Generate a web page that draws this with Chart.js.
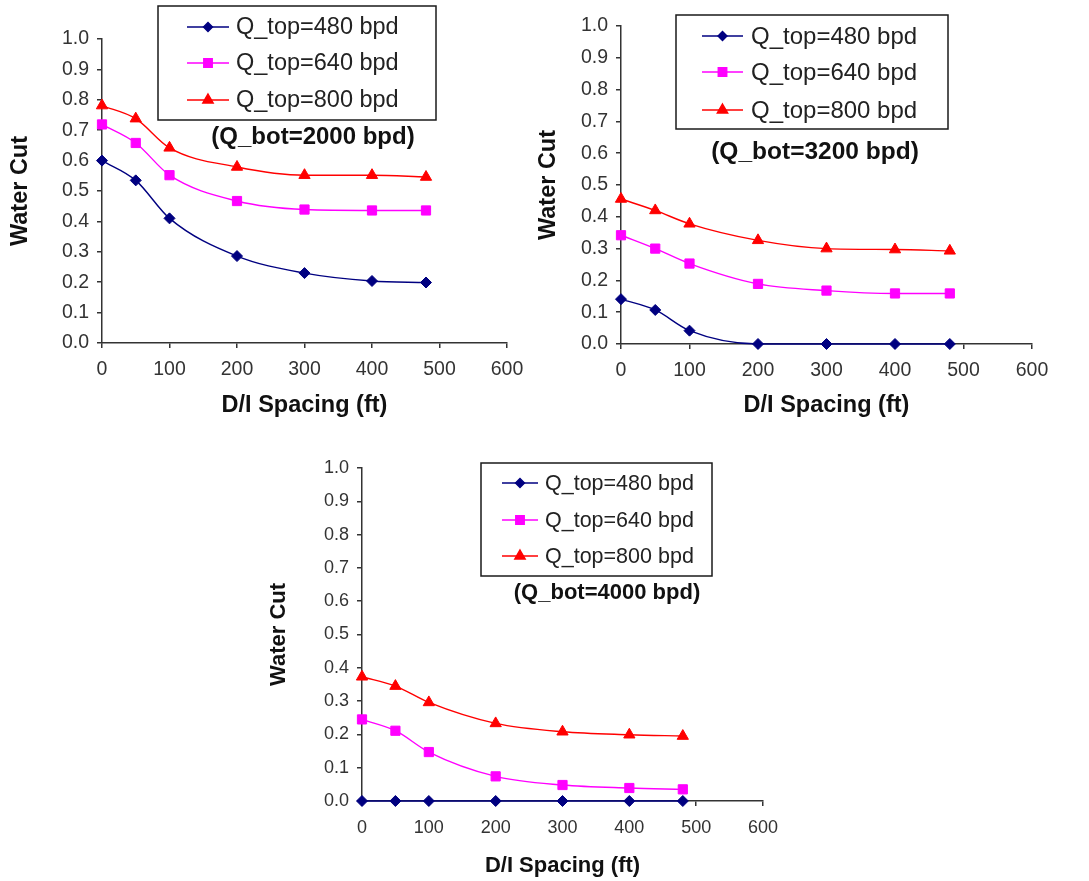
<!DOCTYPE html>
<html><head><meta charset="utf-8">
<script src="https://cdn.jsdelivr.net/npm/chart.js@4.4.1/dist/chart.umd.min.js"></script>
<style>
html,body{margin:0;padding:0;background:#fff;width:1089px;height:881px;overflow:hidden;}
.panel{position:absolute;}
</style></head><body>
<div class="panel" style="left:0;top:0;"><canvas id="c1" width="530" height="430"></canvas></div>
<div class="panel" style="left:530px;top:0;"><canvas id="c2" width="559" height="430"></canvas></div>
<div class="panel" style="left:260px;top:450px;"><canvas id="c3" width="540" height="431"></canvas></div>
<script>
// ---- data ----
const spacingFt = [0, 50, 100, 200, 300, 400, 480];
const seriesLabels = ['Q_top=480 bpd', 'Q_top=640 bpd', 'Q_top=800 bpd'];
const panelTitles = ['(Q_bot=2000 bpd)', '(Q_bot=3200 bpd)', '(Q_bot=4000 bpd)'];
const xAxisTitle = 'D/I Spacing (ft)';
const yAxisTitle = 'Water Cut';

const bot2000_top480 = [0.600, 0.535, 0.410, 0.286, 0.230, 0.204, 0.199];
const bot2000_top640 = [0.719, 0.658, 0.552, 0.467, 0.439, 0.436, 0.436];
const bot2000_top800 = [0.781, 0.738, 0.642, 0.579, 0.552, 0.552, 0.546];

const bot3200_top480 = [0.141, 0.107, 0.042, 0.000, 0.000, 0.000, 0.000];
const bot3200_top640 = [0.342, 0.300, 0.253, 0.189, 0.168, 0.159, 0.159];
const bot3200_top800 = [0.456, 0.420, 0.378, 0.326, 0.300, 0.297, 0.293];

const bot4000_top480 = [0.000, 0.000, 0.000, 0.000, 0.000, 0.000, 0.000];
const bot4000_top640 = [0.245, 0.211, 0.147, 0.074, 0.048, 0.039, 0.035];
const bot4000_top800 = [0.373, 0.345, 0.296, 0.233, 0.208, 0.199, 0.195];

// ---- styles ----
const FONT = "'Liberation Sans', Arial, sans-serif";
const seriesStyles = [
  {color: '#000080', pointStyle: 'rectRot', radius: 5.5, legendR: 4.5},
  {color: '#FF00FF', pointStyle: 'rect', radius: 6.5, legendR: 6},
  {color: '#FF0000', pointStyle: 'triangle', radius: 6.5, legendR: 6}
];

function makeDatasets(seriesList) {
  return seriesList.map((vals, i) => ({
    label: seriesLabels[i],
    data: spacingFt.map((x, k) => ({x: x, y: vals[k]})),
    borderColor: seriesStyles[i].color,
    backgroundColor: seriesStyles[i].color,
    borderWidth: 1.4,
    pointStyle: seriesStyles[i].pointStyle,
    pointRadius: seriesStyles[i].radius,
    pointBorderWidth: 1,
    cubicInterpolationMode: 'monotone',
    clip: false
  }));
}

const overlayPlugin = {
  id: 'overlay',
  afterDatasetsDraw(chart, args, o) {
    const ctx = chart.ctx;
    ctx.save();
    ctx.fillStyle = '#fff';
    ctx.fillRect(o.box[0], o.box[1], o.box[2] - o.box[0], o.box[3] - o.box[1]);
    ctx.strokeStyle = '#1a1a1a';
    ctx.lineWidth = 1.5;
    ctx.strokeRect(o.box[0], o.box[1], o.box[2] - o.box[0], o.box[3] - o.box[1]);
    chart.data.datasets.forEach((ds, i) => {
      const y = o.rows[i];
      ctx.strokeStyle = ds.borderColor;
      ctx.lineWidth = 1.4;
      ctx.beginPath();
      ctx.moveTo(o.line[0], y);
      ctx.lineTo(o.line[1], y);
      ctx.stroke();
      ctx.fillStyle = ds.backgroundColor;
      Chart.helpers.drawPoint(ctx, {pointStyle: ds.pointStyle, radius: seriesStyles[i].legendR, borderWidth: 1, rotation: 0}, (o.line[0] + o.line[1]) / 2, y);
      ctx.fillStyle = '#222';
      ctx.font = o.legendFont + 'px ' + FONT;
      ctx.textBaseline = 'middle';
      ctx.textAlign = 'left';
      ctx.fillText(ds.label, o.textX, y + 1);
    });
    ctx.fillStyle = '#111';
    ctx.font = 'bold ' + o.subFont + 'px ' + FONT;
    ctx.textAlign = 'center';
    ctx.textBaseline = 'middle';
    ctx.fillText(o.subtitle, o.sub[0], o.sub[1]);
    ctx.restore();
  }
};

function makeChart(id, seriesList, p) {
  return new Chart(document.getElementById(id), {
    type: 'line',
    data: {datasets: makeDatasets(seriesList)},
    options: {
      responsive: false,
      animation: false,
      events: [],
      layout: {autoPadding: false, padding: {left: 0, top: p.top, right: p.right, bottom: 0}},
      plugins: {
        legend: {display: false},
        tooltip: {enabled: false},
        overlay: p.overlay
      },
      scales: {
        x: {
          type: 'linear', min: 0, max: 600,
          ticks: {stepSize: 100, color: '#333', padding: p.xTickPad, maxRotation: 0, minRotation: 0, autoSkip: false, font: {family: FONT, size: p.tickFont}},
          grid: {display: true, drawOnChartArea: false, drawTicks: true, tickLength: 5, color: '#333', lineWidth: 1.5},
          border: {display: true, color: '#333', width: 1.5},
          title: {display: true, text: xAxisTitle, color: '#111', font: {family: FONT, size: p.titleFont, weight: 'bold'}, padding: {top: 0, bottom: p.xTitlePad}},
          afterFit(s) { s.height = p.xH; s.paddingRight = 0; s.paddingLeft = 0; }
        },
        y: {
          type: 'linear', min: 0, max: 1,
          ticks: {stepSize: 0.1, color: '#333', padding: 8, font: {family: FONT, size: p.tickFont}, callback: v => Number(v).toFixed(1)},
          grid: {display: true, drawOnChartArea: false, drawTicks: true, tickLength: 5, color: '#333', lineWidth: 1.5},
          border: {display: true, color: '#333', width: 1.5},
          title: {display: true, text: yAxisTitle, color: '#111', font: {family: FONT, size: p.titleFont, weight: 'bold'}, padding: {top: p.yTitlePad, bottom: 0}},
          afterFit(s) { s.width = p.yW; s.paddingTop = 0; s.paddingBottom = 0; }
        }
      }
    },
    plugins: [overlayPlugin]
  });
}

makeChart('c1', [bot2000_top480, bot2000_top640, bot2000_top800], {
  top: 39, right: 23, xH: 87, yW: 102, tickFont: 19.5, titleFont: 23.5, xTitlePad: 10, yTitlePad: 6, xTickPad: 10,
  overlay: {box: [158, 6, 436, 120], rows: [27, 63, 100], line: [187, 229], textX: 236, legendFont: 23.5,
            subtitle: panelTitles[0], subFont: 24, sub: [313, 137]}
});
makeChart('c2', [bot3200_top480, bot3200_top640, bot3200_top800], {
  top: 26, right: 57, xH: 86, yW: 91, tickFont: 19.5, titleFont: 23.5, xTitlePad: 10, yTitlePad: 4, xTickPad: 10,
  overlay: {box: [146, 15, 418, 129], rows: [36, 72, 110], line: [172, 213], textX: 221, legendFont: 24,
            subtitle: panelTitles[1], subFont: 24.5, sub: [285, 152]}
});
makeChart('c3', [bot4000_top480, bot4000_top640, bot4000_top800], {
  top: 18, right: 37, xH: 80, yW: 102, tickFont: 18, titleFont: 22, xTitlePad: 2, yTitlePad: 6, xTickPad: 11,
  overlay: {box: [221, 13, 452, 126], rows: [33, 70, 106], line: [242, 278], textX: 285, legendFont: 21.5,
            subtitle: panelTitles[2], subFont: 22, sub: [347, 143]}
});
</script>
</body></html>
